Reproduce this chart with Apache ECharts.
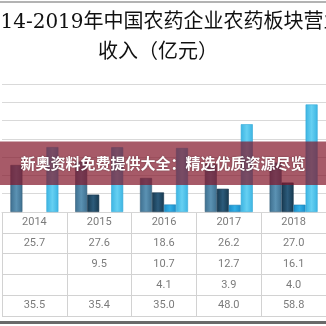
<!DOCTYPE html>
<html>
<head>
<meta charset="utf-8">
<script src="https://cdn.jsdelivr.net/npm/echarts@6/dist/echarts.min.js"></script>
<style>html,body{margin:0;padding:0;background:#fff;}#c{width:326px;height:326px;}</style>
</head>
<body>
<div id="c"></div>
<script>
var categories = ['2014', '2015', '2016', '2017', '2018'];
var seriesNames = ['系列1', '系列2', '系列3', '系列4'];
var s1 = [25.7, 27.6, 18.6, 26.2, 27.0];
var s2 = [null, 9.5, 10.7, 12.7, 16.1];
var s3 = [null, null, 4.1, 3.9, 4.0];
var s4 = [35.5, 35.4, 35.0, 48.0, 58.8];
var yTicks = [0, 10, 20, 30, 40, 50, 60, 70];
var titleLine1 = '2014-2019年中国农药企业农药板块营业';
var titleLine2 = '收入（亿元）';
var bannerText = '新奥资料免费提供大全：精选优质资源尽览';

var allSeries = [s1, s2, s3, s4];
function grad(edge, mid) {
  return new echarts.graphic.LinearGradient(0, 0, 1, 0, [
    {offset: 0, color: edge}, {offset: 0.5, color: mid}, {offset: 1, color: edge}
  ]);
}
var colors = [
  grad('#3e6f8f', '#5b92b3'),
  grad('#17394f', '#2c5b7b'),
  grad('#1a8cc8', '#31b0e6'),
  grad('#3cb4e2', '#66d0f2')
];
var borders = ['#355f7a', '#14324a', '#177fb6', '#36a9d6'];

var tableRows = ['hdr'].concat(seriesNames);
var cellData = [];
for (var i = 0; i < categories.length; i++) {
  cellData.push({name: categories[i], value: [i, 0]});
  for (var r = 0; r < allSeries.length; r++) {
    var v = allSeries[r][i];
    cellData.push({name: v == null ? '' : v.toFixed(1), value: [i, r + 1]});
  }
}

var barSeries = allSeries.map(function (arr, k) {
  return {
    name: seriesNames[k], type: 'bar', xAxisIndex: 0, yAxisIndex: 0,
    data: arr.map(function (v) { return v == null ? '-' : v; }),
    barWidth: 12, barGap: '0%',
    itemStyle: {color: colors[k], borderColor: borders[k], borderWidth: 0.6},
    z: 2
  };
});

var chart = echarts.init(document.getElementById('c'), null, {renderer: 'canvas'});
chart.setOption({
  animation: false,
  backgroundColor: '#ffffff',
  grid: [
    {left: 2, right: -6, top: 84, bottom: 114},
    {left: 2, right: -6, top: 212, height: 104}
  ],
  xAxis: [
    {type: 'category', data: categories, gridIndex: 0,
     axisLine: {show: true, lineStyle: {color: '#d6d6d6'}}, axisTick: {show: false}, axisLabel: {show: false}},
    {type: 'category', data: categories, gridIndex: 1,
     axisLine: {show: false}, axisTick: {show: false}, axisLabel: {show: false},
     splitLine: {show: true, interval: 0, lineStyle: {color: '#d2d2d2', width: 1}}}
  ],
  yAxis: [
    {type: 'value', gridIndex: 0, min: yTicks[0], max: yTicks[yTicks.length - 1], interval: 10,
     axisLine: {show: false}, axisTick: {show: false}, axisLabel: {show: false},
     splitLine: {show: true, lineStyle: {color: '#d9d9d9', width: 1}}},
    {type: 'category', data: tableRows, gridIndex: 1, inverse: true,
     axisLine: {show: false}, axisTick: {show: false}, axisLabel: {show: false},
     splitLine: {show: true, interval: 0, lineStyle: {color: '#d2d2d2', width: 1}}}
  ],
  series: barSeries.concat([{
    type: 'scatter', xAxisIndex: 1, yAxisIndex: 1, data: cellData,
    symbolSize: 1, itemStyle: {color: 'rgba(0,0,0,0)'},
    label: {show: true, position: 'inside', formatter: '{b}', color: '#595959',
            fontFamily: 'Roboto, "Liberation Sans", sans-serif', fontSize: 11}
  }]),
  graphic: [
    {type: 'line', shape: {x1: 0, y1: 2, x2: 326, y2: 2}, style: {stroke: '#9a9a9a', lineWidth: 1.5}, z: 10},
    {type: 'rect', shape: {x: 0, y: 321, width: 326, height: 3}, style: {fill: '#6a6a6a'}, z: 10},
    {type: 'text', left: -25, top: 13, z: 10,
     style: {text: titleLine1, fill: '#111', font: '20px "DejaVu Serif", "Noto Sans CJK SC"'}},
    {type: 'text', x: 158, y: 53, z: 10,
     style: {text: titleLine2, fill: '#111', font: '20px "DejaVu Serif", "Noto Sans CJK SC"', textAlign: 'center', textVerticalAlign: 'middle'}},
    {type: 'rect', shape: {x: 0, y: 141.5, width: 326, height: 43.5}, style: {fill: 'rgba(130,20,40,0.7)'}, z: 20},
    {type: 'text', x: 163, y: 163, z: 21,
     style: {text: bannerText, fill: '#ffffff', font: 'bold 15px "Noto Sans CJK SC"', textAlign: 'center', textVerticalAlign: 'middle',
             textShadowColor: 'rgba(0,0,0,0.35)', textShadowBlur: 2}}
  ]
});
</script>
</body>
</html>
